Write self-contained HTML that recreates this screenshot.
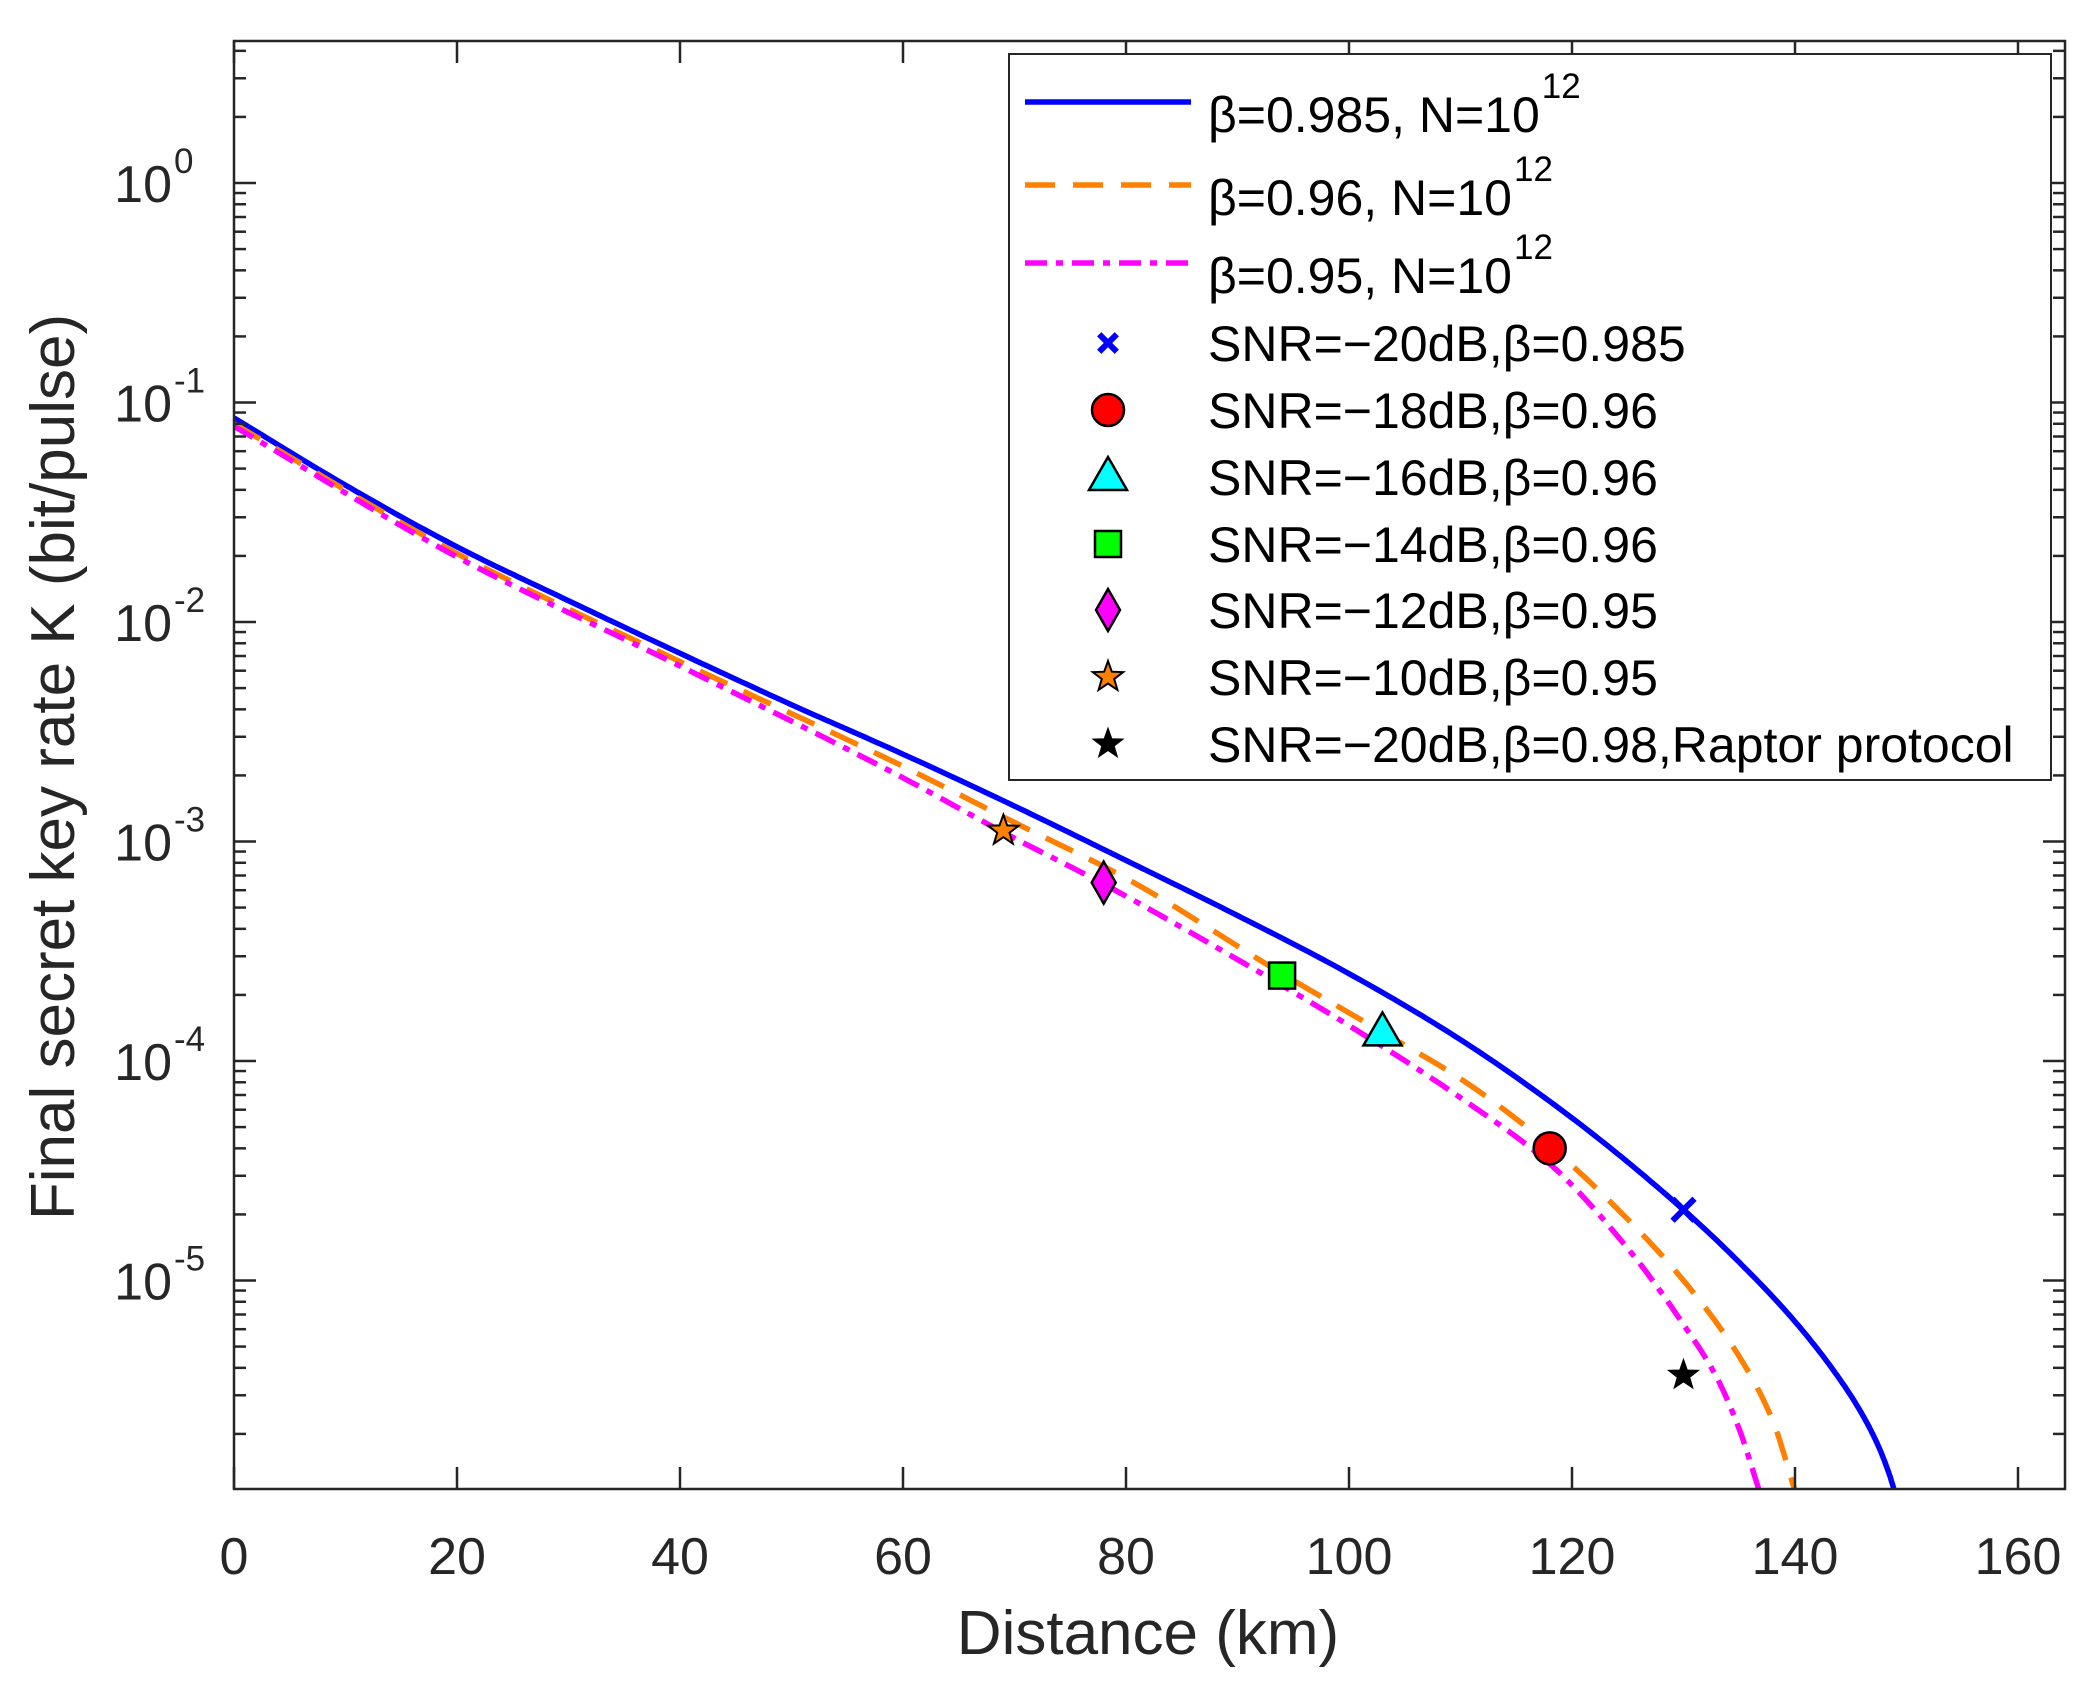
<!DOCTYPE html>
<html><head><meta charset="utf-8"><style>
html,body{margin:0;padding:0;background:#fff}
svg{display:block;font-family:"Liberation Sans",Arial,sans-serif}
</style></head><body>
<svg id="chart" width="2092" height="1694" viewBox="0 0 2092 1694" xmlns="http://www.w3.org/2000/svg">
<rect x="0" y="0" width="2092" height="1694" fill="#fff"/>
<g id="plot"></g>
<g id="axes"></g>
<g id="legend"></g>
</svg>
<script>
const xTicks = [0,20,40,60,80,100,120,140,160];
const yDecades = [0,-1,-2,-3,-4,-5];
const blueX = [0,10,20,30,40,50,60,70,80,90,100,110,120,130,135,140,144,146,147.5,148.5,149.2];
const blueY = [0.085,0.042,0.022,0.0125,0.0072,0.0042,0.0025,0.00145,8.2e-4,4.6e-4,2.5e-4,1.25e-4,5.5e-5,2.1e-5,1.21e-5,6.5e-6,3.56e-6,2.47e-6,1.75e-6,1.29e-6,9.8e-7];
const orangeX = [0,20,40,60,70,80,94,103,110,118,125,130,135,138,140];
const orangeY = [0.08,0.0205,0.0066,0.0022,0.00122,6.8e-4,2.5e-4,1.35e-4,8.3e-5,4.1e-5,1.9e-5,1.0e-5,4.5e-6,2.3e-6,1.1e-6];
const magentaX = [0,20,40,60,69,78,90,100,110,118,125,130,133,135,136.8];
const magentaY = [0.078,0.0198,0.0063,0.00195,1.1e-3,6.4e-4,2.9e-4,1.45e-4,6.8e-5,3.4e-5,1.4e-5,6.3e-6,3.6e-6,2.1e-6,1.1e-6];
const markerX = [130,118,103,94,78,69,130];
const markerY = [2.1e-5,4.0e-5,1.35e-4,2.45e-4,6.5e-4,1.12e-3,3.7e-6];

const NS="http://www.w3.org/2000/svg";
const L=234,R=2065,T=41,B=1489;
const X0=234,PXKM=(2018-234)/160;
const Y0=183,DEC=219.5;
const sx=v=>X0+v*PXKM;
const sy=v=>Y0-Math.log10(v)*DEC;
function mk(tag,attrs,parent){const e=document.createElementNS(NS,tag);for(const k in attrs)e.setAttribute(k,attrs[k]);parent.appendChild(e);return e;}
const plot=document.getElementById('plot'),axes=document.getElementById('axes'),leg=document.getElementById('legend');

const cp=mk('clipPath',{id:'clip'},plot);
mk('rect',{x:L,y:T,width:R-L,height:B-T},cp);

function monoPath(xs,ys){
  const n=xs.length, ly=ys.map(v=>Math.log10(v));
  const h=[],dl=[];
  for(let i=0;i<n-1;i++){h.push(xs[i+1]-xs[i]);dl.push((ly[i+1]-ly[i])/h[i]);}
  const m=new Array(n);
  m[0]=dl[0];m[n-1]=dl[n-2];
  for(let i=1;i<n-1;i++){
    if(dl[i-1]*dl[i]<=0)m[i]=0;
    else{const w1=2*h[i]+h[i-1],w2=h[i]+2*h[i-1];m[i]=(w1+w2)/(w1/dl[i-1]+w2/dl[i]);}
  }
  let d='';
  for(let i=0;i<n-1;i++){
    const steps=20;
    for(let k=(i?1:0);k<=steps;k++){
      const t=k/steps,t2=t*t,t3=t2*t;
      const y=(2*t3-3*t2+1)*ly[i]+(t3-2*t2+t)*h[i]*m[i]+(-2*t3+3*t2)*ly[i+1]+(t3-t2)*h[i]*m[i+1];
      const x=xs[i]+t*h[i];
      d+=(d?'L':'M')+sx(x).toFixed(1)+','+(Y0-y*DEC).toFixed(1);
    }
  }
  return d;
}
function curve(xs,ys,color,dash,name){
  const p=mk('path',{d:monoPath(xs,ys),fill:'none',stroke:color,'stroke-width':5.5,'stroke-dasharray':dash,'stroke-linejoin':'round','clip-path':'url(#clip)'},plot);
  
  
}
curve(blueX,blueY,'#0000ff','none','curve-beta-0985');
curve(orangeX,orangeY,'#ff8000','30 18','curve-beta-096');
curve(magentaX,magentaY,'#ff00ff','22 9 7 9','curve-beta-095');

function marker(kind,cx,cy,parent,size){
  const s=size||1;let e;
  if(kind==='x'){e=mk('path',{d:`M${cx-11*s},${cy-11*s}L${cx+11*s},${cy+11*s}M${cx-11*s},${cy+11*s}L${cx+11*s},${cy-11*s}`,stroke:'#0000ff','stroke-width':6,fill:'none'},parent);}
  else if(kind==='circle'){e=mk('circle',{cx:cx,cy:cy,r:16*s,fill:'#ff0000',stroke:'#000','stroke-width':2.5},parent);}
  else if(kind==='tri'){e=mk('path',{d:`M${cx},${cy-20*s}L${cx+19*s},${cy+13*s}L${cx-19*s},${cy+13*s}Z`,fill:'#00ffff',stroke:'#000','stroke-width':2.5},parent);}
  else if(kind==='sq'){e=mk('rect',{x:cx-13*s,y:cy-13*s,width:26*s,height:26*s,fill:'#00ff00',stroke:'#000','stroke-width':2.5},parent);}
  else if(kind==='dia'){e=mk('path',{d:`M${cx},${cy-21*s}L${cx+12*s},${cy}L${cx},${cy+21*s}L${cx-12*s},${cy}Z`,fill:'#ff00ff',stroke:'#000','stroke-width':2.5},parent);}
  else {const fill=kind==='ostar'?'#ff8000':'#000';const r1=16*s,r2=6.5*s;let d='';
    for(let i=0;i<10;i++){const a=-Math.PI/2+i*Math.PI/5,r=i%2?r2:r1;d+=(i?'L':'M')+(cx+r*Math.cos(a)).toFixed(1)+','+(cy+r*Math.sin(a)).toFixed(1);}
    e=mk('path',{d:d+'Z',fill:fill,stroke:'#000','stroke-width':kind==='ostar'?2:1},parent);}
  return e;
}
const kinds=['x','circle','tri','sq','dia','ostar','bstar'];
const mnames=['marker-snr-20','marker-snr-18','marker-snr-16','marker-snr-14','marker-snr-12','marker-snr-10','marker-raptor'];
markerX.forEach((x,i)=>{const e=marker(kinds[i],sx(x),sy(markerY[i]),plot);
  
  
});

const box=mk('rect',{x:L,y:T,width:R-L,height:B-T,fill:'none',stroke:'#262626','stroke-width':2.5},axes);


xTicks.forEach(v=>{const x=sx(v);
  mk('line',{x1:x,y1:B,x2:x,y2:B-22,stroke:'#262626','stroke-width':2.5},axes);
  mk('line',{x1:x,y1:T,x2:x,y2:T+22,stroke:'#262626','stroke-width':2.5},axes);
  const t=mk('text',{x:x,y:1574,'font-size':52,'text-anchor':'middle',fill:'#262626'},axes);t.textContent=v;
  
  
});
for(let e=-6;e<=0;e++){for(let m=1;m<10;m++){const v=m*Math.pow(10,e);const y=sy(v);if(y<T||y>B)continue;
  const len=m===1?22:12;
  mk('line',{x1:L,y1:y,x2:L+len,y2:y,stroke:'#262626','stroke-width':2.5},axes);
  mk('line',{x1:R,y1:y,x2:R-len,y2:y,stroke:'#262626','stroke-width':2.5},axes);}}
yDecades.forEach(d=>{const y=sy(Math.pow(10,d));
  const t=mk('text',{x:172,y:y+19,'font-size':52,'text-anchor':'end',fill:'#262626'},axes);t.textContent='10';
  
  
  const s=mk('text',{x:174,y:y-10,'font-size':35,'text-anchor':'start',fill:'#262626'},axes);s.textContent=String(d);
  
  
});
const xl=mk('text',{x:1148,y:1654,'font-size':62,'text-anchor':'middle',fill:'#262626'},axes);xl.textContent='Distance (km)';


const yl=mk('text',{x:0,y:0,'font-size':62,'text-anchor':'middle',fill:'#262626',transform:'translate(74,767) rotate(-90)'},axes);yl.textContent='Final secret key rate K (bit/pulse)';



const lb=mk('rect',{x:1009,y:54,width:1042,height:726,fill:'#fff',stroke:'#262626','stroke-width':2},leg);


const legY=[102,185,263,343,410,477,544,610,677,744];
const lineEntries=[['#0000ff','none','β=0.985, N=10'],['#ff8000','30 18','β=0.96, N=10'],['#ff00ff','22 9 7 9','β=0.95, N=10']];
lineEntries.forEach((le,i)=>{const y=legY[i];
  const g=mk('g',{},leg);
  
  
  mk('line',{x1:1025,y1:y,x2:1191,y2:y,stroke:le[0],'stroke-width':5.5,'stroke-dasharray':le[1]},g);
  const t=mk('text',{x:1208,y:y+30,'font-size':50,fill:'#000'},g);t.textContent=le[2];
  const bb=t.getComputedTextLength();
  const s=mk('text',{x:1208+bb+2,y:y-4,'font-size':35,fill:'#000'},g);s.textContent='12';
});
const mlabels=['SNR=\u221220dB,β=0.985','SNR=\u221218dB,β=0.96','SNR=\u221216dB,β=0.96','SNR=\u221214dB,β=0.96','SNR=\u221212dB,β=0.95','SNR=\u221210dB,β=0.95','SNR=\u221220dB,β=0.98,Raptor protocol'];
mlabels.forEach((lab,i)=>{const y=legY[i+3];
  const g=mk('g',{},leg);
  
  
  marker(kinds[i],1108,y,g,kinds[i]==='x'?0.8:1);
  const t=mk('text',{x:1208,y:y+18,'font-size':50,fill:'#000'},g);t.textContent=lab;
});
</script>
</body></html>
